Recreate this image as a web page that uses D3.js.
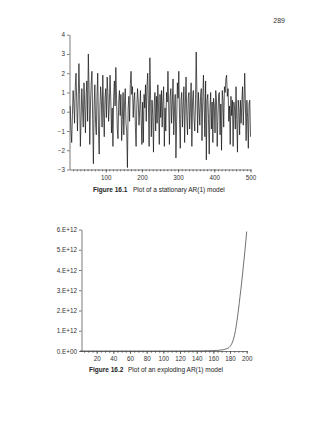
<!DOCTYPE html>
<html>
<head>
<meta charset="utf-8">
<script src="https://cdn.jsdelivr.net/npm/d3@7"></script>
<style>
  body { margin: 0; background: #fff; }
  svg { display: block; font-family: "Liberation Sans", Arial, sans-serif; }
  .axis text { font-size: 6.3px; fill: #333; }
  .axis path, .axis line { stroke: #444; stroke-width: 0.7; }
</style>
</head>
<body>
<div id="page"></div>
<script>
// Figure 16.1 - stationary AR(1), one value for every second observation (t = 2, 4, ... 500)
var arValues = [
  0.3, -0.9, -1.6, -0.2, 1.1, 0.4, -0.6, 1.3, 2.0, 0.5, -1.0, 0.6, 2.5, 0.9, -1.8, -0.4, 1.2, 0.2, -0.8, 1.5, 0.3, -1.1, 0.9, 1.6, -0.5,
  3.0, 1.2, -1.7, 0.4, 1.5, 2.1, -0.4, -2.7, 0.3, 1.4, -0.6, -1.2, 0.8, 2.0, -0.9, -2.2, 0.2, 1.3, 0.6, -0.8, 1.9, 0.1, -1.3, 0.7, 1.2,
  -0.3, 1.8, 1.0, -0.5, 0.4, 1.9, 0.6, -1.1, 0.2, -1.8, 0.8, 1.6, 0.3, 2.3, 0.7, -0.9, -1.4, 0.5, 1.1, -0.2, 0.9, -1.5, -0.4, 1.0, -1.2,
  0.4, 1.2, -0.6, -1.0, -2.9, 0.2, 0.8, -0.5, 1.4, 2.1, 0.9, 1.3, -0.3, 0.6, 1.0, -0.8, -1.8, 0.3, 1.2, 0.5, -0.7, 0.1, 1.1, -0.4, -1.7,
  0.5, -1.6, 0.9, 0.2, 1.4, -0.5, 1.3, 2.0, 0.4, -1.8, 2.8, 0.7, -1.3, 0.6, -0.2, -2.1, 0.4, 1.0, -1.0, 0.8, -0.6, 1.4, 0.2, -1.7, 0.9,
  -0.3, 1.1, -0.8, 0.6, 1.3, -1.8, 0.2, -1.0, 1.0, 0.5, 2.1, 0.3, -1.7, 0.8, 1.2, -0.6, 0.4, 1.7, -1.2, 0.1, 0.9, -2.4, -0.5, 1.5, 0.7,
  2.1, -0.4, -1.9, 0.6, 1.0, -0.8, 0.3, 1.3, -1.6, 0.4, 1.8, -0.2, -1.2, 0.7, 1.0, -0.9, 0.2, 1.5, -1.8, 0.6, 1.1, -0.3, -1.0, 0.4, 3.1,
  0.9, -1.1, 1.0, 0.2, -0.7, 0.8, 1.2, -1.5, 0.5, 1.9, 0.3, -1.3, 1.6, -2.5, 0.6, 0.9, -0.4, -2.2, 0.2, 1.0, -0.9, 0.5, -1.6, 0.7, 0.3,
  -1.1, 1.1, 0.6, -1.8, -0.3, 0.9, 1.0, -1.2, 0.4, -2.0, 1.1, 0.6, -0.8, 1.3, 1.0, 1.7, 1.9, 0.8, 1.2, -0.5, 0.3, -1.7, 0.8, -0.2, 0.6,
  -1.8, 0.5, 0.2, -0.9, 1.3, -0.4, -2.1, 0.6, 0.1, -1.2, 0.6, -0.6, 0.4, 1.3, -0.7, 0.5, 2.0, 0.3, -1.5, 0.6, -0.3, -1.9, 0.4, 0.6, -1.3
];
var arStep = 2;
var arYTicks = [-3, -2, -1, 0, 1, 2, 3, 4];
var arXTicks = [100, 200, 300, 400, 500];

// Figure 16.2 - exploding AR(1), values in units of 1E+12
var explT = [0, 20, 40, 60, 80, 100, 120, 140, 150, 160, 165, 170, 175, 178, 180, 183, 186, 188, 190, 192, 194, 196, 198, 200];
var explV = [0, 0, 0, 0, 0, 0, 0, 0.005, 0.01, 0.02, 0.03, 0.05, 0.1, 0.15, 0.22, 0.45, 0.9, 1.4, 2.0, 2.7, 3.4, 4.2, 5.0, 5.9];
var explYTicks = [0, 1, 2, 3, 4, 5, 6];
var explYLabels = ["0.E+00", "1.E+12", "2.E+12", "3.E+12", "4.E+12", "5.E+12", "6.E+12"];
var explXTicks = [20, 40, 60, 80, 100, 120, 140, 160, 180, 200];

var svg = d3.select("#page").append("svg")
  .attr("width", 320)
  .attr("height", 443);

// page number
svg.append("text")
  .attr("x", 285).attr("y", 23)
  .attr("text-anchor", "end")
  .attr("font-size", "7px")
  .attr("fill", "#333")
  .text("289");

// ---------- Figure 16.1 ----------
var x1 = d3.scaleLinear().domain([0, 500]).range([69.5, 250.5]);
var y1 = d3.scaleLinear().domain([-3, 4]).range([169.5, 34.7]);

var g1 = svg.append("g");

// minor ticks every 10
g1.append("g")
  .attr("class", "axis")
  .attr("transform", "translate(0," + y1(-3) + ")")
  .call(d3.axisBottom(x1).tickValues(d3.range(10, 501, 10)).tickSize(1.8).tickFormat(""))
  .select(".domain").remove();

g1.append("g")
  .attr("class", "axis")
  .attr("transform", "translate(0," + y1(-3) + ")")
  .call(d3.axisBottom(x1).tickValues(arXTicks).tickSize(3).tickSizeOuter(0).tickPadding(3));

g1.append("g")
  .attr("class", "axis")
  .attr("transform", "translate(" + x1(0) + ",0)")
  .call(d3.axisLeft(y1).tickValues(arYTicks).tickSize(2.5).tickSizeOuter(0).tickPadding(2)
    .tickFormat(function(d) { return d < 0 ? "\u2212" + Math.abs(d) : d; }));

var line1 = d3.line()
  .x(function(d, i) { return x1((i + 1) * arStep); })
  .y(function(d) { return y1(d); });

g1.append("path")
  .datum(arValues)
  .attr("d", line1)
  .attr("fill", "none")
  .attr("stroke", "#111")
  .attr("stroke-width", 0.7);

var cap1 = svg.append("text").attr("x", 93).attr("y", 192).attr("font-size", "6.5px").attr("fill", "#222");
cap1.append("tspan").attr("font-weight", "bold").text("Figure 16.1");
cap1.append("tspan").attr("x", 133).text("Plot of a stationary AR(1) model");

// ---------- Figure 16.2 ----------
var x2 = d3.scaleLinear().domain([0, 200]).range([80, 246.7]);
var y2 = d3.scaleLinear().domain([0, 6]).range([351, 229.5]);

var g2 = svg.append("g");

g2.append("g")
  .attr("class", "axis")
  .attr("transform", "translate(0," + y2(0) + ")")
  .call(d3.axisBottom(x2).tickValues(d3.range(5, 201, 5)).tickSize(1.8).tickFormat(""))
  .select(".domain").remove();

g2.append("g")
  .attr("class", "axis")
  .attr("transform", "translate(0," + y2(0) + ")")
  .call(d3.axisBottom(x2).tickValues(explXTicks).tickSize(3).tickSizeOuter(0).tickPadding(3));

g2.append("g")
  .attr("class", "axis")
  .attr("transform", "translate(" + (x2(0) + 1.5) + ",0)")
  .call(d3.axisLeft(y2).tickValues(explYTicks).tickSize(2.5).tickSizeOuter(0).tickPadding(2)
    .tickFormat(function(d, i) { return explYLabels[i]; }));

var line2 = d3.line()
  .x(function(d, i) { return x2(explT[i]); })
  .y(function(d) { return y2(d); })
  .curve(d3.curveMonotoneX);

g2.append("path")
  .datum(explV)
  .attr("d", line2)
  .attr("fill", "none")
  .attr("stroke", "#333")
  .attr("stroke-width", 0.7);

var cap2 = svg.append("text").attr("x", 89).attr("y", 372).attr("font-size", "6.5px").attr("fill", "#222");
cap2.append("tspan").attr("font-weight", "bold").text("Figure 16.2");
cap2.append("tspan").attr("x", 128).text("Plot of an exploding AR(1) model");
</script>
</body>
</html>
